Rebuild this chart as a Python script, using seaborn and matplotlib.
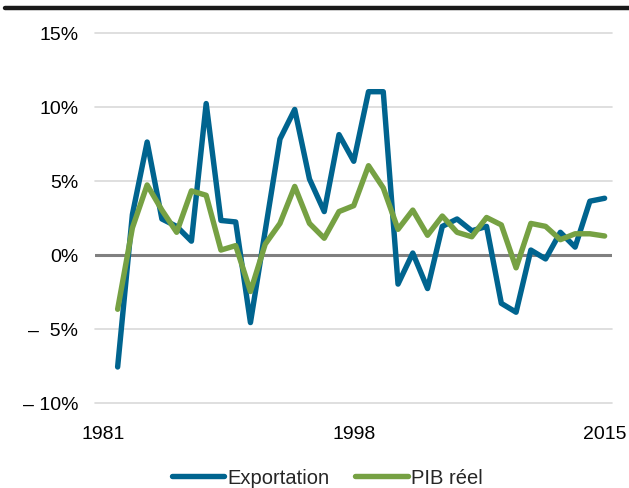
import matplotlib
matplotlib.use("Agg")
import matplotlib.pyplot as plt
import seaborn as sns
import pandas as pd
from matplotlib.lines import Line2D

years = list(range(1982, 2016))
exportation = [-7.6, 2.7, 7.6, 2.4, 1.9, 0.9, 10.2, 2.3, 2.2, -4.6,
               1.6, 7.8, 9.8, 5.1, 2.9, 8.1, 6.3, 11.0, 11.0, -2.0,
               0.1, -2.3, 1.9, 2.4, 1.6, 1.9, -3.3, -3.9, 0.3, -0.3,
               1.5, 0.5, 3.6, 3.8]
pib_reel = [-3.7, 1.8, 4.7, 3.0, 1.5, 4.3, 4.0, 0.3, 0.6, -2.5,
            0.7, 2.1, 4.6, 2.1, 1.1, 2.9, 3.3, 6.0, 4.5, 1.7,
            3.0, 1.3, 2.6, 1.5, 1.2, 2.5, 2.0, -0.9, 2.1, 1.9,
            1.0, 1.4, 1.4, 1.25]
series_names = ["Exportation", "PIB réel"]
colors = ["#00648F", "#76A143"]
x_ticks = [1981, 1998, 2015]
y_ticks = [-10, -5, 0, 5, 10, 15]
y_labels = ["–  5%".replace("5", "10", 1) if False else "– 10%", "–  5%", "0%", "5%", "10%", "15%"]

sns.set_theme(style="white")
plt.rcParams["font.family"] = ["Liberation Sans", "DejaVu Sans"]

df = pd.DataFrame({
    "year": years * 2,
    "value": exportation + pib_reel,
    "series": [series_names[0]] * len(years) + [series_names[1]] * len(years),
})

fig = plt.figure(figsize=(6.29, 4.89), dpi=100)
ax = fig.add_axes([95.5 / 629, 1 - 403.5 / 489, (612 - 95.5) / 629, (403.5 - 33.5) / 489])

for yv in y_ticks:
    if yv != 0:
        ax.axhline(yv, color="#D9D9D9", lw=1.2, zorder=0, clip_on=False)
ax.axhline(0, color="#808080", lw=2.2, zorder=1)

sns.lineplot(data=df, x="year", y="value", hue="series", palette=colors,
             hue_order=series_names, lw=3.9, ax=ax, legend=False,
             solid_capstyle="round", solid_joinstyle="round", zorder=3)

ax.set_xlim(1980.5, 2015.5)
ax.set_ylim(-10, 15)
ax.set_xticks(x_ticks)
ax.set_xticklabels([str(t) for t in x_ticks])
ax.set_yticks(y_ticks)
ax.set_yticklabels(y_labels)
ax.tick_params(axis="both", length=0, labelsize=14, colors="black")
ax.tick_params(axis="y", pad=12.5)
ax.tick_params(axis="x", pad=16)
ax.set_xlabel("")
ax.set_ylabel("")
for s in ax.spines.values():
    s.set_visible(False)

handles = [Line2D([0], [0], color=c, lw=3.9, solid_capstyle="round") for c in colors]
fig.legend(handles, series_names, loc="center", bbox_to_anchor=(0.52, 0.022),
           ncol=2, frameon=False, fontsize=14.5, handlelength=2.6,
           handletextpad=0.15, columnspacing=1.3)

fig.add_artist(Line2D([5 / 629, 1.0], [1 - 9 / 489, 1 - 9 / 489], color="#1a1a1a", lw=3.2))

fig.savefig("out.png", dpi=100)
